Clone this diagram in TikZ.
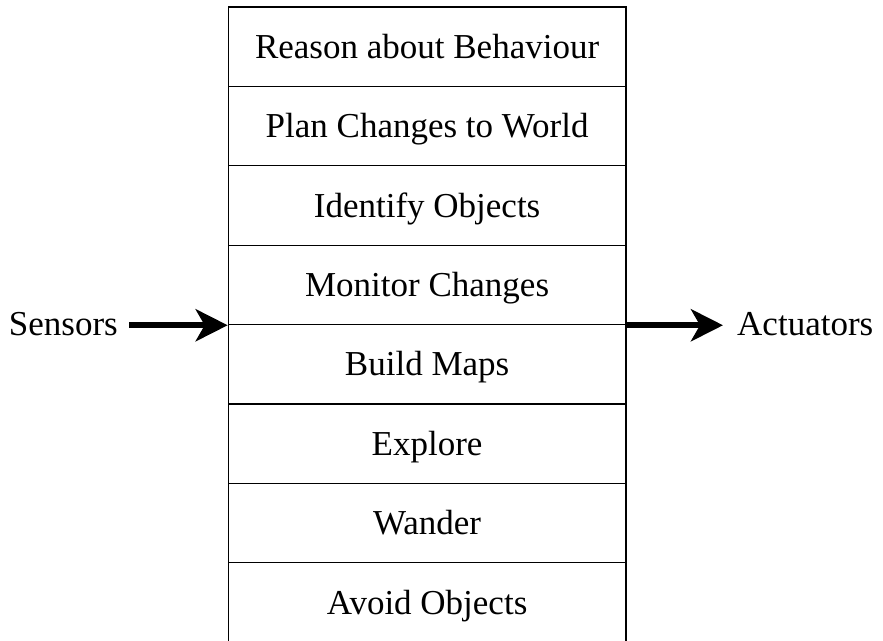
\documentclass[tikz,border=0pt]{standalone}
\usepackage{fontspec}
\setmainfont{Liberation Serif}
\usetikzlibrary{arrows.meta}
\begin{document}
\begin{tikzpicture}[x=1pt,y=-1pt,
  lbl/.style={font=\fontsize{35}{42}\selectfont, inner sep=0pt},
  rowbox/.style={draw, line width=1.3pt, minimum width=397.5pt, minimum height=79.4pt, inner sep=0pt, text height=23.2pt, text depth=0pt, font=\fontsize{35}{42}\selectfont},
  bigarrow/.style={line width=6pt, -{Stealth[length=32pt, width=32pt, inset=9pt]}}]
\useasboundingbox (0,0) rectangle (883,640);
\clip (0,0) rectangle (883,640);
\foreach \t [count=\i from 0] in {Reason about Behaviour, Plan Changes to World, Identify Objects, Monitor Changes, Build Maps, Explore, Wander, Avoid Objects}{
  \node[rowbox] (r\i) at (427.1, 7+79.4*\i+39.7) {\t};
}
\node[lbl, anchor=base east] (sens) at (118,335) {Sensors};
\node[lbl, anchor=base west] (act) at (737,335) {Actuators};
\draw[bigarrow] ([xshift=11pt]sens.east |- r3.south west) -- (r3.south west);
\draw[bigarrow] (r3.south east) -- ([xshift=-14pt]act.west |- r3.south east);
\end{tikzpicture}
\end{document}
